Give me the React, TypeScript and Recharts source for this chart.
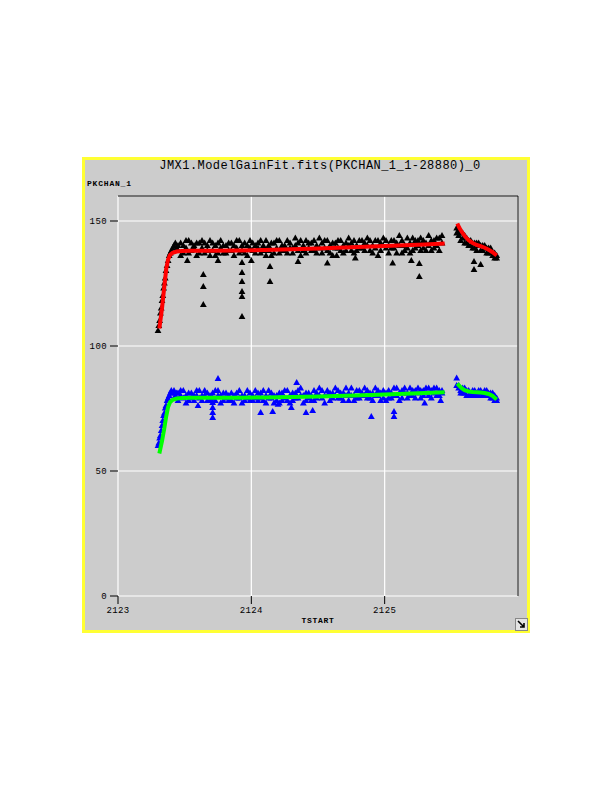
import React from "react";
import {
  ScatterChart,
  Scatter,
  XAxis,
  YAxis,
  CartesianGrid,
  Symbols,
} from "recharts";

// time ticks / value ticks
const xTicks = [2123, 2124, 2125];
const yTicks = [0, 50, 100, 150];

// rising part at the start of the run
const riseTimes = [
  2123.3, 2123.306, 2123.312, 2123.318, 2123.324, 2123.33, 2123.336, 2123.342,
  2123.348, 2123.354, 2123.36, 2123.368, 2123.376, 2123.384, 2123.392, 2123.4,
  2123.41, 2123.42, 2123.43, 2123.44,
];
const riseBlack = [
  106, 108, 110, 113, 115, 118, 120, 123, 125, 127, 130, 132, 134, 136, 137,
  138, 139, 140, 141, 139,
];
const riseBlue = [
  60, 61, 63, 64, 66, 68, 70, 72, 73, 75, 76, 78, 79, 80, 81, 82, 81, 82, 80,
  81,
];

// main band
const bandTimes = [
  2123.45, 2123.47, 2123.49, 2123.51, 2123.53, 2123.55, 2123.57, 2123.59, 2123.61, 2123.63,
  2123.65, 2123.67, 2123.69, 2123.71, 2123.73, 2123.75, 2123.77, 2123.79, 2123.81, 2123.83,
  2123.85, 2123.87, 2123.89, 2123.91, 2123.93, 2123.95, 2123.97, 2123.99, 2124.01, 2124.03,
  2124.05, 2124.07, 2124.09, 2124.11, 2124.13, 2124.15, 2124.17, 2124.19, 2124.21, 2124.23,
  2124.25, 2124.27, 2124.29, 2124.31, 2124.33, 2124.35, 2124.37, 2124.39, 2124.41, 2124.43,
  2124.45, 2124.47, 2124.49, 2124.51, 2124.53, 2124.55, 2124.57, 2124.59, 2124.61, 2124.63,
  2124.65, 2124.67, 2124.69, 2124.71, 2124.73, 2124.75, 2124.77, 2124.79, 2124.81, 2124.83,
  2124.85, 2124.87, 2124.89, 2124.91, 2124.93, 2124.95, 2124.97, 2124.99, 2125.01, 2125.03,
  2125.05, 2125.07, 2125.09, 2125.11, 2125.13, 2125.15, 2125.17, 2125.19, 2125.21, 2125.23,
  2125.25, 2125.27, 2125.29, 2125.31, 2125.33, 2125.35, 2125.37, 2125.39, 2125.41, 2125.43,
];
const bandBlack = [
  140, 141, 137, 139, 142, 138, 140, 136, 141, 139,
  137, 140, 142, 138, 136, 141, 139, 137, 140, 138,
  141, 136, 139, 142, 138, 137, 140, 139, 141, 137,
  139, 142, 138, 136, 140, 141, 137, 139, 142, 138,
  140, 137, 141, 139, 143, 138, 136, 140, 142, 139,
  141, 138, 140, 143, 137, 139, 142, 140, 136, 141,
  139, 142, 140, 138, 143, 141, 137, 140, 142, 139,
  141, 143, 138, 140, 142, 136, 141, 143, 139, 140,
  142, 139, 141, 144, 137, 140, 143, 141, 138, 142,
  140, 143, 139, 141, 144, 138, 142, 140, 143, 141,
];
// second reading at the same times (the band is two samples deep)
const bandBlack2 = [
  138, 136, 140, 142, 137, 141, 139, 141, 137, 142,
  141, 138, 136, 141, 140, 137, 142, 140, 137, 141,
  138, 140, 142, 137, 140, 141, 136, 142, 138, 140,
  141, 137, 140, 142, 138, 136, 141, 142, 137, 140,
  138, 142, 139, 137, 140, 141, 142, 138, 137, 141,
  138, 142, 137, 139, 141, 142, 138, 137, 141, 139,
  142, 138, 137, 141, 140, 138, 142, 138, 139, 142,
  138, 140, 142, 137, 139, 142, 138, 140, 142, 137,
  139, 142, 137, 140, 142, 138, 139, 137, 143, 139,
  142, 138, 142, 138, 140, 142, 139, 143, 138, 144,
];
const bandBlue = [
  81, 82, 79, 80, 78, 81, 80, 82, 79, 78,
  80, 81, 78, 79, 82, 80, 77, 81, 79, 80,
  78, 80, 81, 79, 77, 80, 82, 78, 80, 79,
  81, 79, 78, 80, 82, 79, 77, 80, 81, 78,
  79, 82, 80, 78, 81, 79, 83, 80, 78, 81,
  80, 78, 81, 83, 79, 80, 82, 78, 81, 80,
  82, 79, 81, 80, 78, 83, 80, 82, 79, 81,
  80, 82, 79, 81, 83, 80, 78, 82, 81, 79,
  81, 83, 80, 78, 82, 81, 79, 83, 80, 82,
  81, 79, 82, 83, 80, 82, 81, 83, 80, 82,
];
const bandBlue2 = [
  78, 80, 82, 77, 81, 79, 78, 80, 82, 80,
  82, 78, 80, 81, 78, 82, 80, 78, 81, 78,
  81, 77, 79, 82, 80, 78, 79, 81, 78, 82,
  78, 81, 82, 77, 79, 81, 80, 78, 77, 81,
  82, 78, 77, 81, 79, 82, 80, 77, 81, 79,
  78, 82, 79, 80, 82, 77, 80, 81, 79, 83,
  79, 81, 78, 83, 81, 80, 78, 79, 82, 80,
  83, 79, 81, 78, 80, 82, 81, 79, 78, 82,
  79, 80, 83, 81, 79, 83, 81, 80, 82, 79,
  83, 82, 80, 81, 83, 79, 83, 80, 82, 81,
];

// second piece after the gap
const lateTimes = [
  2125.54, 2125.555, 2125.57, 2125.585, 2125.6, 2125.615, 2125.63, 2125.645,
  2125.66, 2125.675, 2125.69, 2125.705, 2125.72, 2125.735, 2125.75, 2125.765,
  2125.78, 2125.795, 2125.81, 2125.825, 2125.84,
];
const lateBlack = [
  147, 146, 145, 143, 144, 141, 142, 140, 141, 139, 141, 140, 138, 140, 139,
  137, 139, 138, 136, 137, 135,
];
const lateBlack2 = [
  145, 144, 142, 145, 141, 143, 140, 142, 139, 141, 138, 141, 140, 138, 140,
  139, 137, 139, 137, 135, 136,
];
const lateBlue = [
  87, 84, 82, 81, 83, 82, 80, 81, 82, 80, 81, 82, 81, 80, 82, 81, 80, 81, 79,
  80, 79,
];
const lateBlue2 = [
  84, 83, 81, 83, 81, 80, 82, 80, 80, 82, 80, 80, 82, 81, 80, 82, 81, 79, 81,
  78, 78,
];

// dips
const blackDipTimes = [
  2123.52, 2123.64, 2123.64, 2123.64, 2123.75, 2123.93, 2123.93, 2123.93,
  2123.93, 2123.93, 2123.93, 2124.0, 2124.14, 2124.14, 2124.35, 2124.57,
  2124.64, 2124.78, 2125.06, 2125.2, 2125.26, 2125.26, 2125.67, 2125.67, 2125.72,
];
const blackDipValues = [
  134, 128.4, 123.6, 116.4, 134, 133.2, 129.2, 125.6, 121.6, 119.6, 111.6, 134,
  131.6, 125.6, 133.6, 133, 136, 135, 133, 134, 127.6, 132.8, 130.4, 133.6,
  132.4,
];
const blueDipTimes = [
  2123.6, 2123.71, 2123.71, 2123.71, 2123.71, 2123.75, 2124.07, 2124.16, 2124.2,
  2124.3, 2124.34, 2124.41, 2124.46, 2124.9, 2125.07, 2125.07, 2125.3, 2125.42,
];
const blueDipValues = [
  76, 77.2, 75.2, 73.2, 71.2, 86.8, 73.2, 73.6, 76.5, 75.2, 85.2, 73.2, 74,
  71.6, 71.6, 73.6, 77, 78,
];

// model fit curves
const fitTimes1 = [
  2123.31, 2123.33, 2123.347, 2123.362, 2123.375, 2123.39, 2123.41, 2123.44,
  2123.48, 2123.55, 2123.7, 2123.9, 2124.1, 2124.3, 2124.5, 2124.7, 2124.9,
  2125.1, 2125.3, 2125.45,
];
const redFit1 = [
  107, 115, 123.6, 131, 134.5, 136.4, 137.3, 137.8, 138, 138.1, 138.1, 138.2,
  138.4, 138.7, 139, 139.4, 139.8, 140.2, 140.6, 141,
];
const greenFit1 = [
  57, 62, 67, 72, 75.5, 77.5, 78.5, 79, 79.2, 79.3, 79.3, 79.3, 79.4, 79.6,
  79.8, 80.1, 80.4, 80.8, 81.2, 81.5,
];
const fitTimes2 = [
  2125.545, 2125.56, 2125.58, 2125.6, 2125.63, 2125.66, 2125.69, 2125.72,
  2125.75, 2125.78, 2125.81, 2125.84,
];
const redFit2 = [149, 147.3, 145.5, 144, 142.3, 141.2, 140.4, 139.9, 139.3, 138.5, 137.5, 136.2];
const greenFit2 = [85, 84, 83, 82.3, 81.8, 81.6, 81.5, 81.4, 81.2, 80.8, 80, 78.6];

const pts = (xs: number[], ys: number[]) => xs.map((x, i) => ({ x, y: ys[i] }));

const blackPts = [
  ...pts(riseTimes, riseBlack),
  ...pts(bandTimes, bandBlack),
  ...pts(bandTimes, bandBlack2),
  ...pts(lateTimes, lateBlack),
  ...pts(lateTimes, lateBlack2),
  ...pts(blackDipTimes, blackDipValues),
];
const bluePts = [
  ...pts(riseTimes, riseBlue),
  ...pts(bandTimes, bandBlue),
  ...pts(bandTimes, bandBlue2),
  ...pts(lateTimes, lateBlue),
  ...pts(lateTimes, lateBlue2),
  ...pts(blueDipTimes, blueDipValues),
];

const mono = "'Liberation Mono', 'DejaVu Sans Mono', monospace";
const noDot = () => <g />;
const tri = (color: string) => (p: any) => (
  <Symbols cx={p.cx} cy={p.cy} type="triangle" size={20} fill={color} />
);

const App: React.FC = () => {
  const tickStyle = { fontSize: 9, fontFamily: mono, fill: "#000", letterSpacing: 0.4 };
  return (
    <div style={{ position: "absolute", left: 0, top: 0, width: 612, height: 792 }}>
      <div
        style={{
          position: "absolute",
          left: 82,
          top: 157,
          width: 448,
          height: 476,
          boxSizing: "border-box",
          border: "3px solid #ffff33",
          background: "#cccccc",
        }}
      />
      <div
        style={{
          position: "absolute",
          left: 82,
          width: 476,
          top: 159,
          textAlign: "center",
          fontFamily: mono,
          fontSize: 12,
          letterSpacing: 0.45,
          color: "#000",
        }}
      >
        JMX1.ModelGainFit.fits(PKCHAN_1_1-28880)_0
      </div>
      <div
        style={{
          position: "absolute",
          left: 87,
          top: 179,
          fontFamily: mono,
          fontSize: 8,
          fontWeight: "bold",
          letterSpacing: 0.8,
          color: "#000",
        }}
      >
        PKCHAN_1
      </div>
      <div
        style={{
          position: "absolute",
          left: 268,
          width: 100,
          top: 616,
          textAlign: "center",
          fontFamily: mono,
          fontSize: 8,
          fontWeight: "bold",
          letterSpacing: 0.7,
          color: "#000",
        }}
      >
        TSTART
      </div>
      <svg
        style={{ position: "absolute", left: 515, top: 618 }}
        width={13}
        height={13}
      >
        <rect x={0.5} y={0.5} width={12} height={12} fill="#e4e4e4" stroke="#888" />
        <path d="M3 3 L9 9 M9 5 L9 9 L5 9" stroke="#000" strokeWidth={1.6} fill="none" />
      </svg>
      <ScatterChart
        width={612}
        height={792}
        margin={{ top: 186, right: 84, bottom: 166, left: 88 }}
        style={{ position: "absolute", left: 0, top: 0 }}
      >
        <CartesianGrid
          xAxisId="b"
          yAxisId="l"
          stroke="#ffffff"
          strokeWidth={1.2}
          fill="none"
        />
        <XAxis
          xAxisId="b"
          dataKey="x"
          type="number"
          domain={[2123, 2126]}
          ticks={xTicks}
          axisLine={false}
          tickLine={{ stroke: "#000" }}
          tickSize={8}
          tickMargin={3}
          height={30}
          tick={tickStyle}
        />
        <XAxis
          xAxisId="t"
          orientation="top"
          type="number"
          domain={[2123, 2126]}
          ticks={xTicks}
          axisLine={{ stroke: "#000" }}
          tickLine={{ stroke: "#000" }}
          tickSize={8}
          height={10}
          tickFormatter={() => ""}
        />
        <YAxis
          yAxisId="l"
          dataKey="y"
          type="number"
          domain={[0, 160]}
          ticks={yTicks}
          axisLine={false}
          tickLine={{ stroke: "#000" }}
          tickSize={8}
          tickMargin={3}
          width={30}
          tick={tickStyle}
        />
        <YAxis
          yAxisId="r"
          orientation="right"
          type="number"
          domain={[0, 160]}
          ticks={[0]}
          axisLine={{ stroke: "#000" }}
          tickLine={{ stroke: "#000" }}
          tickSize={8}
          width={10}
          tickFormatter={() => ""}
        />
        <Scatter
          xAxisId="b"
          yAxisId="l"
          data={blackPts}
          shape={tri("#000000")}
          isAnimationActive={false}
        />
        <Scatter
          xAxisId="b"
          yAxisId="l"
          data={pts(fitTimes1, redFit1)}
          line={{ stroke: "#ff0000", strokeWidth: 4 }}
          lineType="joint"
          shape={noDot}
          isAnimationActive={false}
        />
        <Scatter
          xAxisId="b"
          yAxisId="l"
          data={pts(fitTimes2, redFit2)}
          line={{ stroke: "#ff0000", strokeWidth: 4 }}
          lineType="joint"
          shape={noDot}
          isAnimationActive={false}
        />
        <Scatter
          xAxisId="b"
          yAxisId="l"
          data={bluePts}
          shape={tri("#0000ff")}
          isAnimationActive={false}
        />
        <Scatter
          xAxisId="b"
          yAxisId="l"
          data={pts(fitTimes1, greenFit1)}
          line={{ stroke: "#00ff00", strokeWidth: 4 }}
          lineType="joint"
          shape={noDot}
          isAnimationActive={false}
        />
        <Scatter
          xAxisId="b"
          yAxisId="l"
          data={pts(fitTimes2, greenFit2)}
          line={{ stroke: "#00ff00", strokeWidth: 4 }}
          lineType="joint"
          shape={noDot}
          isAnimationActive={false}
        />
      </ScatterChart>
    </div>
  );
};

export default App;
